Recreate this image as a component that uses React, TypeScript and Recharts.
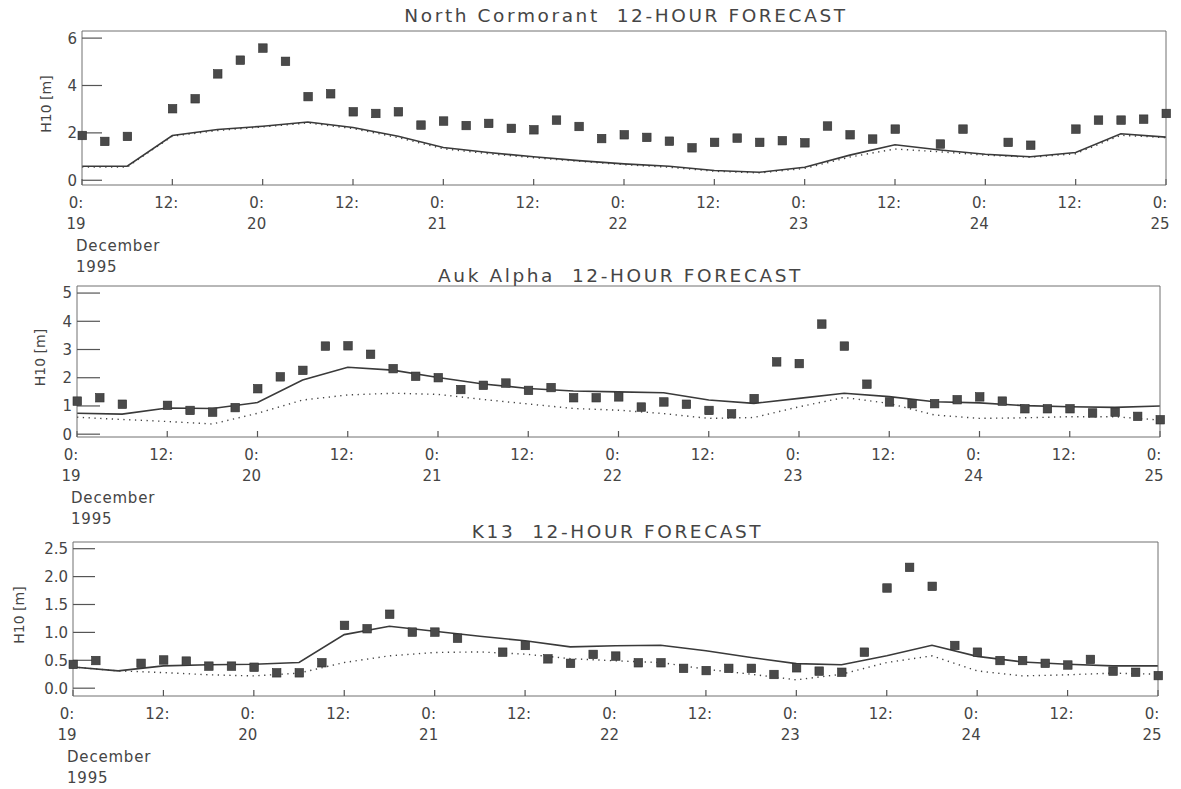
import React from "react";
import { ComposedChart, Line, Scatter, XAxis, YAxis } from "recharts";

const PAGE_W = 1181;
const PAGE_H = 789;
const FONT = '"DejaVu Sans", Verdana, sans-serif';
const INK = "#454545";
const FRAME = "#707070";
const TICK = "#555555";

// time axis: hours after 0:00 on 19 December 1995
const hourTicks = [0, 12, 24, 36, 48, 60, 72, 84, 96, 108, 120, 132, 144];
const dayNames = ["19", "20", "21", "22", "23", "24", "25"];
const monthName = "December";
const yearName = "1995";

// forecast curves are given every 6 hours
const fcHours = [0, 6, 12, 18, 24, 30, 36, 42, 48, 54, 60, 66, 72, 78, 84, 90, 96, 102, 108, 114, 120, 126, 132, 138, 144];

// North Cormorant
const ncObsHours = [0, 3, 6, 12, 15, 18, 21, 24, 27, 30, 33, 36, 39, 42, 45, 48, 51, 54, 57, 60, 63, 66, 69, 72, 75, 78, 81, 84, 87, 90, 93, 96, 99, 102, 105, 108, 114, 117, 123, 126, 132, 135, 138, 141, 144];
const ncObs = [1.9, 1.65, 1.86, 3.03, 3.45, 4.5, 5.08, 5.59, 5.03, 3.54, 3.66, 2.9, 2.83, 2.9, 2.34, 2.51, 2.32, 2.41, 2.2, 2.14, 2.55, 2.28, 1.77, 1.93, 1.82, 1.66, 1.38, 1.61, 1.79, 1.61, 1.68, 1.59, 2.3, 1.93, 1.75, 2.17, 1.54, 2.17, 1.61, 1.49, 2.17, 2.55, 2.55, 2.59, 2.83];
const ncSolid = [0.59, 0.59, 1.89, 2.14, 2.28, 2.46, 2.23, 1.86, 1.38, 1.17, 0.99, 0.83, 0.69, 0.59, 0.41, 0.34, 0.55, 1.06, 1.5, 1.28, 1.1, 0.99, 1.17, 1.96, 1.82];
const ncDotted = [0.56, 0.56, 1.86, 2.1, 2.25, 2.42, 2.18, 1.8, 1.33, 1.12, 0.95, 0.8, 0.66, 0.55, 0.38, 0.31, 0.5, 0.98, 1.32, 1.2, 1.06, 0.97, 1.12, 1.9, 1.8];

// Auk Alpha
const aukObsHours = [0, 3, 6, 12, 15, 18, 21, 24, 27, 30, 33, 36, 39, 42, 45, 48, 51, 54, 57, 60, 63, 66, 69, 72, 75, 78, 81, 84, 87, 90, 93, 96, 99, 102, 105, 108, 111, 114, 117, 120, 123, 126, 129, 132, 135, 138, 141, 144];
const aukObs = [1.18, 1.3, 1.07, 1.03, 0.85, 0.79, 0.95, 1.62, 2.04, 2.27, 3.13, 3.14, 2.84, 2.33, 2.06, 2.01, 1.59, 1.74, 1.82, 1.56, 1.66, 1.3, 1.3, 1.33, 0.97, 1.15, 1.07, 0.85, 0.73, 1.27, 2.57, 2.51, 3.91, 3.13, 1.78, 1.15, 1.09, 1.09, 1.23, 1.33, 1.18, 0.91, 0.91, 0.91, 0.76, 0.79, 0.64, 0.52];
const aukSolid = [0.74, 0.71, 0.93, 0.91, 1.12, 1.92, 2.37, 2.27, 2.01, 1.78, 1.62, 1.53, 1.5, 1.47, 1.21, 1.09, 1.27, 1.45, 1.33, 1.15, 1.11, 1.01, 0.97, 0.95, 1.0];
const aukDotted = [0.6, 0.52, 0.45, 0.36, 0.74, 1.21, 1.39, 1.45, 1.41, 1.23, 1.07, 0.91, 0.85, 0.73, 0.56, 0.59, 0.97, 1.3, 1.09, 0.68, 0.56, 0.58, 0.62, 0.62, 0.5];

// K13
const k13ObsHours = [0, 3, 9, 12, 15, 18, 21, 24, 27, 30, 33, 36, 39, 42, 45, 48, 51, 57, 60, 63, 66, 69, 72, 75, 78, 81, 84, 87, 90, 93, 96, 99, 102, 105, 108, 111, 114, 117, 120, 123, 126, 129, 132, 135, 138, 141, 144];
const k13Obs = [0.43, 0.5, 0.45, 0.51, 0.49, 0.4, 0.4, 0.38, 0.28, 0.28, 0.46, 1.13, 1.07, 1.33, 1.01, 1.01, 0.9, 0.65, 0.77, 0.53, 0.45, 0.61, 0.58, 0.46, 0.46, 0.36, 0.32, 0.36, 0.36, 0.25, 0.37, 0.31, 0.29, 0.65, 1.8, 2.17, 1.83, 0.77, 0.65, 0.5, 0.5, 0.45, 0.42, 0.52, 0.31, 0.29, 0.23];
const k13Solid = [0.38, 0.31, 0.4, 0.42, 0.43, 0.46, 0.96, 1.11, 1.02, 0.93, 0.85, 0.74, 0.76, 0.77, 0.67, 0.55, 0.44, 0.42, 0.58, 0.77, 0.57, 0.47, 0.43, 0.4, 0.4];
const k13Dotted = [0.38, 0.31, 0.28, 0.24, 0.22, 0.27, 0.46, 0.58, 0.64, 0.65, 0.61, 0.53, 0.49, 0.46, 0.34, 0.25, 0.15, 0.25, 0.46, 0.58, 0.31, 0.22, 0.24, 0.27, 0.25];

const toPoints = (hours: number[], vals: number[]) => hours.map((x, i) => ({ x, y: vals[i] }));

const stepTicks = (from: number, to: number, step: number) => {
  const out: number[] = [];
  for (let v = from; v <= to + 1e-9; v += step) out.push(Math.round(v * 1000) / 1000);
  return out;
};

type Panel = {
  title: string;
  obs: { x: number; y: number }[];
  solid: { x: number; y: number }[];
  dotted: { x: number; y: number }[];
  left: number;
  right: number;
  top: number;
  bottom: number;
  domain: [number, number];
  majors: number[];
  minors: number[];
  majorLen: number;
  minorLen: number;
  minorColor: string;
  fmt: (v: number) => string;
  titleY: number;
  labelX: number;
};

const panels: Panel[] = [
  {
    title: "North Cormorant  12-HOUR FORECAST",
    obs: toPoints(ncObsHours, ncObs),
    solid: toPoints(fcHours, ncSolid),
    dotted: toPoints(fcHours, ncDotted),
    left: 83, right: 1165, top: 31, bottom: 185,
    domain: [-0.2, 6.3],
    majors: [0, 2, 4, 6],
    minors: stepTicks(0, 6, 0.5),
    majorLen: 20, minorLen: 9, minorColor: "#666",
    fmt: (v) => String(v),
    titleY: 22, labelX: 46,
  },
  {
    title: "Auk Alpha  12-HOUR FORECAST",
    obs: toPoints(aukObsHours, aukObs),
    solid: toPoints(fcHours, aukSolid),
    dotted: toPoints(fcHours, aukDotted),
    left: 78, right: 1159, top: 286, bottom: 437,
    domain: [-0.1, 5.25],
    majors: [0, 1, 2, 3, 4, 5],
    minors: stepTicks(-0.1, 5.25, 0.05),
    majorLen: 23, minorLen: 9, minorColor: "#8d8d8d",
    fmt: (v) => String(v),
    titleY: 282, labelX: 40,
  },
  {
    title: "K13  12-HOUR FORECAST",
    obs: toPoints(k13ObsHours, k13Obs),
    solid: toPoints(fcHours, k13Solid),
    dotted: toPoints(fcHours, k13Dotted),
    left: 74, right: 1157, top: 542, bottom: 696,
    domain: [-0.14, 2.62],
    majors: [0, 0.5, 1, 1.5, 2, 2.5],
    minors: stepTicks(-0.1, 2.6, 0.1),
    majorLen: 22, minorLen: 12, minorColor: "#666",
    fmt: (v) => v.toFixed(1),
    titleY: 538, labelX: 19,
  },
];

const txt = { fontFamily: FONT, fill: INK, fontSize: 15 };

// date labels under the bottom axis (tick marks come from recharts' own tickLine)
const makeXLabel = (p: Panel) => (props: any) => {
  const { x, payload } = props;
  const h = payload.value as number;
  const midnight = h % 24 === 0;
  const lx = x - 6;
  const y = p.bottom;
  return (
    <g>
      <text x={lx} y={y + 23} textAnchor="middle" {...txt}>{midnight ? "0:" : "12:"}</text>
      {midnight && (
        <text x={lx} y={y + 44} textAnchor="middle" {...txt}>{dayNames[h / 24]}</text>
      )}
      {h === 0 && (
        <>
          <text x={p.left - 7} y={y + 66} letterSpacing={0.8} {...txt}>{monthName}</text>
          <text x={p.left - 7} y={y + 87} letterSpacing={0.8} {...txt}>{yearName}</text>
        </>
      )}
    </g>
  );
};

const makeYLabel = (p: Panel) => (props: any) => {
  const { y, payload } = props;
  return (
    <text x={p.left - 6} y={y} dy="0.36em" textAnchor="end" {...txt}>
      {p.fmt(payload.value as number)}
    </text>
  );
};

const Square = (props: any) => {
  const { cx, cy } = props;
  if (cx == null || cy == null) return <g />;
  return <rect x={cx - 4} y={cy - 4} width={8.5} height={8.5} fill="#4a4a4a" stroke="#2e2e2e" strokeWidth={0.6} />;
};

// the minor-tick axes keep an invisible axis line, otherwise their ticks are skipped
const hiddenLine = { stroke: "#ffffff", strokeOpacity: 0 };

// every axis is 1px wide and mirrored, so its tick lines point into the frame
const PanelChart = ({ p }: { p: Panel }) => {
  const minorOnly = p.minors.filter((v) => !p.majors.some((m) => Math.abs(m - v) < 1e-6));
  const axisCommon = { type: "number" as const, interval: 0 as const, mirror: true, tickMargin: 0 };
  return (
    <div style={{ position: "absolute", left: 0, top: 0 }}>
      <ComposedChart
        width={PAGE_W}
        height={PAGE_H}
        margin={{ top: p.top, bottom: PAGE_H - p.bottom, left: p.left - 1, right: PAGE_W - p.right - 1 }}
      >
        <XAxis
          {...axisCommon}
          xAxisId="b"
          dataKey="x"
          domain={[0, 144]}
          ticks={hourTicks}
          height={1}
          tickSize={6}
          tickLine={{ stroke: TICK, strokeWidth: 1.2 }}
          axisLine={{ stroke: FRAME }}
          tick={makeXLabel(p)}
        />
        <XAxis
          {...axisCommon}
          xAxisId="t"
          orientation="top"
          domain={[0, 144]}
          ticks={hourTicks}
          height={1}
          tickSize={6}
          tickLine={{ stroke: TICK, strokeWidth: 1.2 }}
          axisLine={{ stroke: FRAME }}
          tick={false}
        />
        <YAxis
          {...axisCommon}
          yAxisId="l"
          dataKey="y"
          domain={p.domain}
          ticks={p.majors}
          width={1}
          tickSize={p.majorLen}
          tickLine={{ stroke: TICK, strokeWidth: 1.2 }}
          axisLine={{ stroke: FRAME }}
          tick={makeYLabel(p)}
        />
        <YAxis
          {...axisCommon}
          yAxisId="lm"
          domain={p.domain}
          ticks={minorOnly}
          width={1}
          tickSize={p.minorLen}
          tickLine={{ stroke: p.minorColor, strokeWidth: 1.1 }}
          axisLine={hiddenLine}
          tick={false}
        />
        <YAxis
          {...axisCommon}
          yAxisId="r"
          orientation="right"
          domain={p.domain}
          ticks={p.majors}
          width={1}
          tickSize={p.majorLen}
          tickLine={{ stroke: TICK, strokeWidth: 1.2 }}
          axisLine={{ stroke: FRAME }}
          tick={false}
        />
        <YAxis
          {...axisCommon}
          yAxisId="rm"
          orientation="right"
          domain={p.domain}
          ticks={minorOnly}
          width={1}
          tickSize={p.minorLen}
          tickLine={{ stroke: p.minorColor, strokeWidth: 1.1 }}
          axisLine={hiddenLine}
          tick={false}
        />
        <Line
          xAxisId="b"
          yAxisId="l"
          data={p.dotted}
          dataKey="y"
          type="linear"
          stroke="#444"
          strokeWidth={1.4}
          strokeDasharray="1.3 4.5"
          dot={false}
          isAnimationActive={false}
        />
        <Line
          xAxisId="b"
          yAxisId="l"
          data={p.solid}
          dataKey="y"
          type="linear"
          stroke="#3a3a3a"
          strokeWidth={1.6}
          dot={false}
          isAnimationActive={false}
        />
        <Scatter
          xAxisId="b"
          yAxisId="l"
          data={p.obs}
          dataKey="y"
          shape={<Square />}
          isAnimationActive={false}
        />
      </ComposedChart>
    </div>
  );
};

export default function App() {
  return (
    <div style={{ position: "relative", width: PAGE_W, height: PAGE_H, background: "#fff", overflow: "hidden" }}>
      <style>{"body{margin:0}"}</style>
      {panels.map((p) => (
        <PanelChart key={p.title} p={p} />
      ))}
      <svg width={PAGE_W} height={PAGE_H} style={{ position: "absolute", left: 0, top: 0, pointerEvents: "none" }}>
        {panels.map((p) => (
          <g key={p.title}>
            <text
              x={(p.left + p.right) / 2 + 2}
              y={p.titleY}
              textAnchor="middle"
              fontFamily={FONT}
              fontSize={18.5}
              letterSpacing={2.6}
              fill={INK}
              style={{ whiteSpace: "pre" }}
            >
              {p.title}
            </text>
            <text
              x={p.labelX}
              y={(p.top + p.bottom) / 2 - 4}
              transform={`rotate(-90 ${p.labelX} ${(p.top + p.bottom) / 2 - 4})`}
              textAnchor="middle"
              dy="0.36em"
              fontFamily={FONT}
              fontSize={14}
              fill={INK}
            >
              H10 [m]
            </text>
          </g>
        ))}
      </svg>
    </div>
  );
}
